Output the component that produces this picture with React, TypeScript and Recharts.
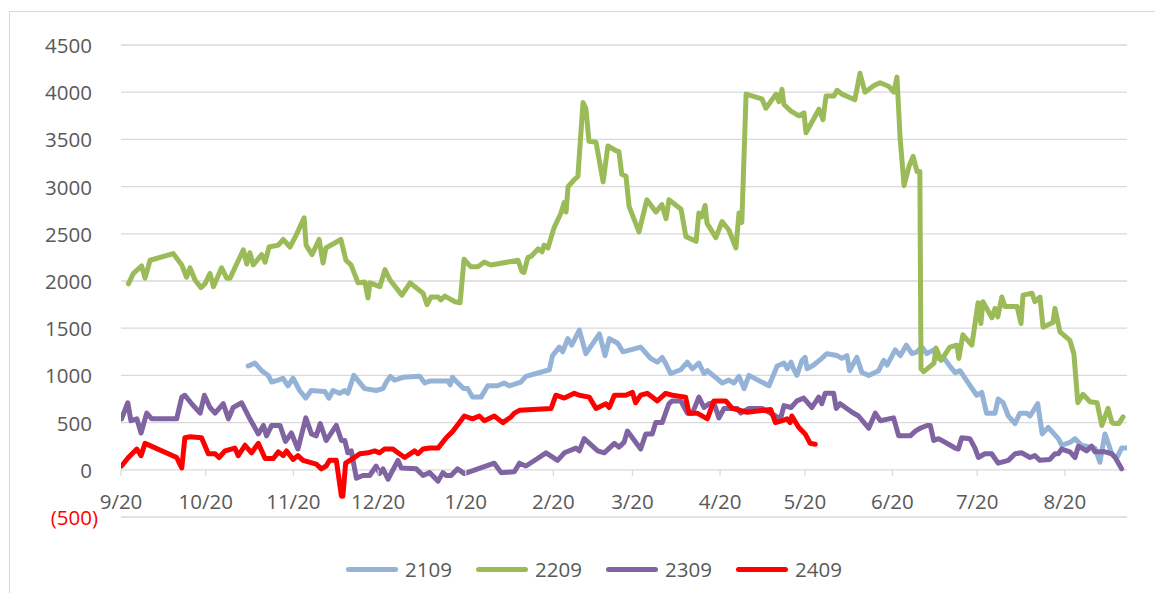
import React from 'react';
import { LineChart, Line, XAxis, YAxis, CartesianGrid, Legend } from 'recharts';

// x = days after 9/20, y = spread
const monthTicks = [0, 30, 61, 91, 122, 153, 181, 212, 242, 273, 303, 334];
const monthLabels = ['9/20', '10/20', '11/20', '12/20', '1/20', '2/20', '3/20', '4/20', '5/20', '6/20', '7/20', '8/20'];
const valueTicks = [-500, 0, 500, 1000, 1500, 2000, 2500, 3000, 3500, 4000, 4500];

const s2109: [number, number][] = [
  [45, 1100], [47.4, 1130], [49.8, 1050], [52.1, 1000], [53.3, 930], [55.7, 950], [57.3, 970], [59.1, 890], [60.9, 970], [63.2, 840],
  [65.4, 760], [67.3, 840], [72.1, 830], [73.6, 760], [75, 840], [77.4, 810], [79.2, 840], [80.3, 810], [82.4, 1000], [86.2, 860],
  [90.3, 840], [92.7, 860], [93.9, 930], [95.3, 990], [96.8, 950], [99.8, 980], [105.7, 990], [107.5, 920], [109.2, 940], [115.7, 940],
  [116.5, 900], [117.3, 980], [118.5, 940], [121.3, 860], [122.7, 860], [124.4, 770], [127.4, 770], [129.8, 890], [133.3, 890], [135.6, 920],
  [137.4, 890], [141.5, 930], [143.3, 990], [151.6, 1060], [152.7, 1210], [155.1, 1300], [156.3, 1250], [158.1, 1390], [159.5, 1320], [162.2, 1480],
  [164.5, 1230], [169.3, 1440], [171.3, 1210], [172.8, 1390], [175.8, 1340], [177.6, 1250], [183.9, 1300], [187.4, 1180], [189.8, 1140], [191.5, 1190],
  [192.7, 1130], [194.5, 1020], [198.1, 1060], [200.4, 1140], [202.2, 1070], [204.5, 1130], [206.3, 1020], [207.5, 1050], [212.8, 920], [215.1, 950],
  [216.9, 920], [218.7, 990], [220.5, 860], [222.2, 1000], [229.3, 890], [232.2, 1100], [234.6, 1130], [235.8, 1070], [237.1, 1140], [238, 1070],
  [239.2, 1000], [241, 1160], [242.1, 1190], [242.8, 1070], [245.1, 1110], [247.2, 1160], [249.8, 1230], [253.4, 1210], [255.1, 1180], [256.9, 1210],
  [257.8, 1050], [260.4, 1190], [262.2, 1030], [264.6, 1000], [268.1, 1050], [269.9, 1160], [271.1, 1110], [274, 1270], [275.8, 1210], [277.9, 1320],
  [279.9, 1230], [281.7, 1250], [283.4, 1300], [285.2, 1230], [287.6, 1270], [289.3, 1180], [291.1, 1190], [293.5, 1090], [295.2, 1030], [296.9, 1050],
  [299.8, 920], [302.8, 790], [304.6, 820], [306.3, 600], [309.3, 600], [310.4, 750], [312.2, 710], [314, 570], [316.4, 490], [318.1, 600],
  [320.5, 600], [321.7, 570], [324.4, 700], [326, 380], [328.1, 450], [331.7, 330], [332.9, 260], [335.8, 290], [337.6, 330], [339.9, 260],
  [344.7, 230], [346.4, 80], [348.2, 380], [350.6, 170], [352.3, 120], [354.1, 230], [356, 230],
];

const s2209: [number, number][] = [
  [2.6, 1970], [4.4, 2080], [7.3, 2160], [8.5, 2030], [10.3, 2220], [18.5, 2290], [21.5, 2170], [23.2, 2040], [24.4, 2140], [26.2, 2010],
  [28.3, 1930], [29.7, 1970], [31.5, 2080], [32.7, 1940], [35.6, 2140], [37.4, 2030], [38.6, 2030], [40.3, 2140], [43.3, 2330], [44.5, 2180],
  [45.6, 2300], [46.8, 2170], [49.8, 2280], [51, 2200], [52.4, 2360], [55.7, 2380], [57.4, 2440], [59.8, 2360], [61.9, 2480], [64.8, 2670],
  [65.5, 2380], [67.6, 2280], [70.1, 2440], [71.5, 2190], [72.5, 2350], [77.8, 2440], [79.6, 2220], [81.4, 2170], [83.9, 1980], [86.3, 1990],
  [87.4, 1820], [88.1, 1980], [91.6, 1940], [93.4, 2120], [95.2, 2010], [99.4, 1850], [102.3, 1980], [106.9, 1870], [108.3, 1750], [109.7, 1830],
  [112.2, 1830], [113.2, 1800], [114.6, 1840], [118.2, 1780], [120, 1770], [121.4, 2230], [123.8, 2150], [126.3, 2150], [128.5, 2200], [130.9, 2170],
  [140.5, 2220], [141.9, 2100], [142.6, 2090], [144, 2250], [145.1, 2260], [147.6, 2340], [149, 2310], [149.7, 2380], [151.1, 2350], [153.2, 2560],
  [155.7, 2720], [156.8, 2830], [157.5, 2730], [158.2, 3000], [160.3, 3070], [161.7, 3110], [162.1, 3290], [163.5, 3890], [164.5, 3830], [165.6, 3480],
  [168.1, 3470], [170.6, 3050], [172.3, 3430], [175.2, 3380], [176.2, 3370], [177.2, 3130], [178.7, 3110], [179.8, 2790], [183.3, 2520], [186.1, 2860],
  [189.3, 2730], [191.4, 2810], [192.9, 2660], [193.9, 2860], [198.2, 2760], [199.9, 2470], [203.5, 2420], [204.5, 2720], [205.6, 2680], [206.7, 2800],
  [207.4, 2610], [210.5, 2460], [212.7, 2630], [215.1, 2540], [217.6, 2350], [218.7, 2720], [219.7, 2620], [221.2, 3980], [226.8, 3930], [228.2, 3830],
  [231.8, 3980], [232.8, 3900], [233.9, 4030], [234.6, 3870], [237.1, 3800], [239.9, 3750], [241.7, 3780], [242.4, 3570], [247, 3820], [248.4, 3710],
  [249.5, 3960], [252.3, 3960], [253.4, 4020], [255.1, 3980], [259.7, 3920], [261.5, 4200], [263.3, 4000], [266.5, 4070], [268.6, 4100], [271.8, 4060],
  [273.5, 4000], [274.6, 4160], [275.7, 3520], [277.1, 3010], [278.8, 3210], [280.3, 3320], [281.7, 3160], [282.7, 3160], [283.1, 1070], [284.1, 1040],
  [287.7, 1130], [288.4, 1290], [290.2, 1160], [293.3, 1300], [295.8, 1320], [296.5, 1180], [297.9, 1430], [301.1, 1320], [303.3, 1770], [304.3, 1550],
  [305, 1780], [308.2, 1610], [309.3, 1710], [310.3, 1620], [311.7, 1830], [312.8, 1730], [317.1, 1730], [318.5, 1550], [319.2, 1850], [322.4, 1870],
  [323.4, 1780], [325.2, 1830], [326.3, 1510], [329.8, 1560], [330.5, 1710], [332.3, 1460], [335.8, 1370], [337.2, 1230], [338.6, 710], [340.4, 800],
  [342.9, 720], [345.4, 710], [347.1, 470], [349.3, 650], [350.7, 500], [351.7, 490], [353.1, 490], [354.6, 560],
];

const s2309: [number, number][] = [
  [0.2, 540], [2.4, 710], [3.5, 520], [5.6, 540], [7.1, 390], [9.1, 600], [10.9, 540], [19.7, 540], [21.5, 770], [22.6, 790],
  [25, 700], [28, 600], [29.5, 790], [31.5, 660], [33.3, 600], [36.2, 700], [38, 540], [39.7, 660], [42.7, 710], [45.6, 540],
  [48.6, 380], [50.4, 470], [51.5, 360], [53.3, 470], [56.3, 470], [58.2, 300], [60.3, 390], [62.6, 220], [65.4, 550], [67.4, 380],
  [69.1, 360], [70.5, 490], [72.6, 310], [76.2, 470], [78, 310], [79.2, 310], [80.3, 180], [81.5, 200], [83.3, -90], [85.6, -60],
  [88, -60], [90.3, 40], [91.5, -40], [92.7, 10], [94.5, -100], [98, 100], [99.2, 20], [104.5, 10], [106.9, -60], [109.2, -30],
  [112.2, -120], [113.9, -30], [115.1, -60], [116.8, -60], [119.1, 10], [121.5, -40], [132.1, 70], [134.5, -30], [139.2, -20], [141, 70],
  [143.3, 40], [147.4, 120], [150.4, 180], [154.5, 100], [156.9, 180], [161, 230], [162.2, 200], [163.9, 330], [168.7, 200], [171, 180],
  [174.6, 280], [176.2, 240], [178, 290], [179.2, 410], [183.9, 220], [185.7, 380], [188, 380], [189.2, 500], [191.5, 500], [193.9, 700],
  [195.1, 730], [198.1, 730], [200.4, 600], [202.2, 600], [204.5, 770], [206.3, 660], [208.1, 700], [209.8, 710], [211.6, 550], [213.4, 650],
  [218.1, 650], [219.3, 600], [222.2, 650], [226.9, 650], [231.6, 570], [233.4, 540], [234.6, 680], [237.1, 660], [239.2, 730], [241.6, 760],
  [244.5, 660], [246.9, 770], [248, 700], [249.2, 810], [252.2, 810], [253.1, 650], [254.5, 700], [258.7, 610], [261, 570], [264.6, 440],
  [266.9, 600], [268.7, 520], [273.4, 550], [275.2, 360], [279.3, 360], [281.1, 410], [282.8, 440], [285.2, 470], [286.4, 470], [287.6, 310],
  [289.3, 330], [293.5, 260], [295.2, 230], [296.3, 220], [297.5, 340], [300.4, 330], [302.2, 230], [303.4, 130], [305.7, 170], [308.1, 170],
  [310.4, 70], [314, 100], [316.4, 170], [318.7, 180], [321.7, 130], [323.4, 150], [325.2, 100], [328.7, 110], [330.5, 170], [331.7, 170],
  [332.9, 220], [335.8, 190], [337.6, 130], [338.8, 250], [341.7, 200], [343.5, 250], [344.7, 190], [348.2, 190], [350.6, 170], [351.8, 130],
  [354.1, 10],
];

const s2409: [number, number][] = [
  [0.2, 40], [2.6, 130], [5.6, 220], [7.1, 150], [8.5, 280], [19.7, 130], [21.5, 20], [22.6, 340], [24.4, 350], [28.5, 340],
  [30.9, 170], [33.3, 170], [34.7, 130], [36.8, 200], [40.3, 230], [41.5, 150], [43.9, 260], [46.2, 180], [48.6, 280], [51, 120],
  [53.9, 120], [55.7, 190], [57.4, 150], [58.6, 200], [60.9, 110], [62.6, 150], [64.4, 100], [69.1, 60], [70.9, 10], [72.6, 40],
  [73.8, 100], [76.2, 100], [78, -280], [78.5, -280], [79.5, 70], [82.1, 120], [84.5, 170], [87.4, 180], [89.8, 200], [91.5, 180],
  [93.3, 220], [96.2, 220], [98, 180], [100.4, 130], [103.9, 200], [105.1, 170], [106.9, 220], [109.2, 230], [112.2, 230], [115.1, 340],
  [117.5, 410], [118.5, 450], [121.5, 570], [124.4, 540], [126.8, 570], [128.6, 520], [132.1, 570], [135.1, 500], [138, 560], [139.2, 600],
  [141, 630], [152.2, 650], [153.9, 790], [156.9, 760], [160.4, 810], [162.2, 790], [165.7, 770], [168.1, 650], [171.6, 700], [172.8, 660],
  [174.6, 790], [178.6, 790], [181, 820], [182.1, 710], [183.9, 790], [186.2, 810], [188, 770], [189.8, 730], [192.7, 810], [195.1, 790],
  [199.8, 770], [201, 600], [203.9, 600], [207.5, 540], [209.8, 730], [214, 730], [216.3, 650], [221.6, 610], [229.9, 640], [231.6, 500],
  [234, 520], [235.7, 540], [236.8, 500], [237.4, 570], [239.8, 450], [242.1, 380], [243.9, 280], [245.7, 270],
];

const SERIES = [
  { name: '2109', color: '#95B3D7', points: s2109 },
  { name: '2209', color: '#9BBB59', points: s2209 },
  { name: '2309', color: '#8064A2', points: s2309 },
  { name: '2409', color: '#FF0000', points: s2409 },
];

const FONT = '"Open Sans", sans-serif';
const TEXT_GRAY = '#595959';
const GRID = '#d9d9d9';
// the category axis crosses at 0, which sits 500 units (of 5000 over 472px) above the plot bottom
const ZERO_SHIFT = 47.2;

const XTick = (props: any) => {
  const { x, y, payload } = props;
  const y0 = y - ZERO_SHIFT;
  const label = monthLabels[monthTicks.indexOf(payload.value)];
  return (
    <g>
      <line x1={x} x2={x} y1={y0} y2={y0 + 6} stroke={GRID} strokeWidth={1.3} />
      <text x={x} y={y0 + 31} textAnchor="middle" dominantBaseline="central" fill={TEXT_GRAY} fontFamily={FONT} fontSize={20.5}>
        {label}
      </text>
    </g>
  );
};

const YTick = (props: any) => {
  const { x, y, payload } = props;
  const v = payload.value;
  const neg = v < 0;
  return (
    <text x={neg ? x + 6 : x} y={y} textAnchor="end" dominantBaseline="central"
      fill={neg ? '#FF0000' : TEXT_GRAY} fontFamily={FONT} fontSize={20.5}>
      {neg ? `(${Math.abs(v)})` : v}
    </text>
  );
};

const LegendBox = () => (
  <div style={{ display: 'flex', alignItems: 'center', height: 30, paddingLeft: 336 }}>
    {SERIES.map(s => (
      <div key={s.name} style={{ display: 'flex', alignItems: 'center', width: 130 }}>
        <span style={{ display: 'inline-block', width: 52, height: 5, borderRadius: 3, background: s.color, marginRight: 7 }} />
        <span style={{ fontFamily: FONT, fontSize: 20.5, color: TEXT_GRAY, lineHeight: '30px' }}>{s.name}</span>
      </div>
    ))}
  </div>
);

export default function App() {
  return (
    <div style={{ position: 'relative', top: 3, left: 1, width: 1153, height: 584, borderTop: `1px solid ${GRID}`, borderLeft: `1px solid ${GRID}`, background: '#fff' }}>
      <LineChart width={1150} height={584} margin={{ top: 33, right: 33, bottom: 12, left: 0 }}>
        <CartesianGrid vertical={false} stroke={GRID} strokeWidth={1.3} />
        <XAxis type="number" dataKey="d" domain={[0, 356]} ticks={monthTicks} interval={0} allowDataOverflow
          axisLine={false} tickLine={false} tickSize={0} tickMargin={0} height={37} tick={<XTick />} />
        <YAxis type="number" domain={[-500, 4500]} ticks={valueTicks} interval={0} width={111}
          axisLine={false} tickLine={false} tickSize={0} tickMargin={29} tick={<YTick />} />
        <Legend verticalAlign="bottom" content={<LegendBox />} />
        {SERIES.map(s => (
          <Line key={s.name} name={s.name} data={s.points.map(([d, v]) => ({ d, v }))} dataKey="v"
            type="linear" stroke={s.color} strokeWidth={5} strokeLinejoin="round" strokeLinecap="round"
            dot={false} activeDot={false} isAnimationActive={false} />
        ))}
      </LineChart>
    </div>
  );
}
